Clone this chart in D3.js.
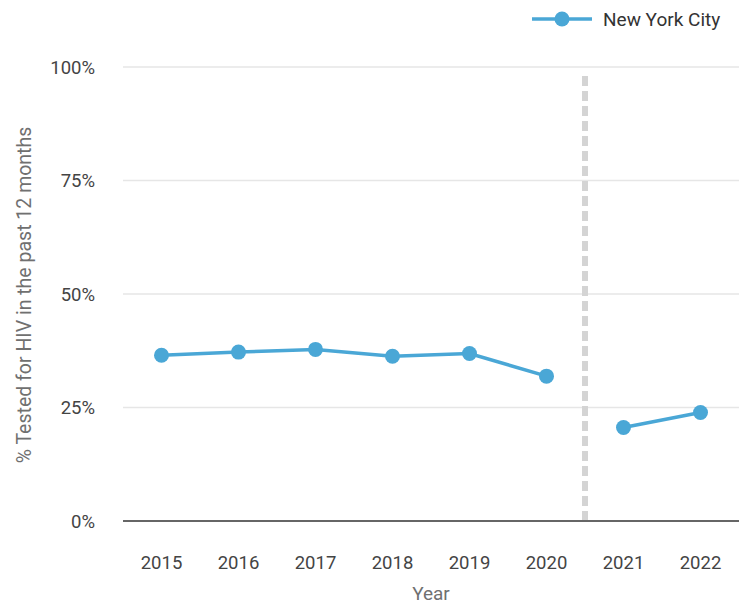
<!DOCTYPE html>
<html>
<head>
<meta charset="utf-8">
<script src="https://cdn.jsdelivr.net/npm/d3@7"></script>
<style>
  body { margin: 0; background: #fff; }
  text { font-family: Roboto, "Noto Sans", sans-serif; }
</style>
</head>
<body>
<svg id="chart" width="749" height="606"></svg>
<script>
// data
var years = ["2015", "2016", "2017", "2018", "2019", "2020", "2021", "2022"];
var nycValues = [36.5, 37.2, 37.8, 36.3, 36.9, 31.9, 20.6, 23.9];
var yTicks = [0, 25, 50, 75, 100];
var seriesName = "New York City";
var breakAfter = "2020";  // dashed divider between 2020 and 2021

var svg = d3.select("#chart");
var plotLeft = 123, plotRight = 739, plotTop = 67, plotBottom = 521;
var blue = "#4aa7d6";

var x = d3.scaleBand().domain(years).range([plotLeft, plotRight]);
var y = d3.scaleLinear().domain([0, 100]).range([plotBottom, plotTop]);

// gridlines
svg.append("g").selectAll("line")
    .data(yTicks.filter(function(d) { return d > 0; }))
    .join("line")
    .attr("x1", plotLeft).attr("x2", plotRight)
    .attr("y1", function(d) { return y(d); })
    .attr("y2", function(d) { return y(d); })
    .attr("stroke", "#e6e6e6").attr("stroke-width", 1.5);

// y tick labels
svg.append("g").selectAll("text")
    .data(yTicks)
    .join("text")
    .attr("x", 95)
    .attr("y", function(d) { return y(d); })
    .attr("dy", "0.36em")
    .attr("text-anchor", "end")
    .attr("font-size", 18.5)
    .attr("fill", "#444")
    .text(function(d) { return d + "%"; });

// dashed divider
var bx = x(breakAfter) + x.bandwidth();
svg.append("line")
    .attr("x1", bx).attr("x2", bx)
    .attr("y1", 76).attr("y2", plotBottom + 4)
    .attr("stroke", "#d4d4d4").attr("stroke-width", 6)
    .attr("stroke-dasharray", "10,5");

// baseline
svg.append("line")
    .attr("x1", plotLeft).attr("x2", plotRight)
    .attr("y1", plotBottom).attr("y2", plotBottom)
    .attr("stroke", "#666").attr("stroke-width", 2);

// x tick labels
svg.append("g").selectAll("text")
    .data(years)
    .join("text")
    .attr("x", function(d) { return x(d) + x.bandwidth() / 2; })
    .attr("y", 569)
    .attr("text-anchor", "middle")
    .attr("font-size", 18.5)
    .attr("fill", "#444")
    .text(function(d) { return d; });

// axis titles
svg.append("text")
    .attr("x", 431).attr("y", 600)
    .attr("text-anchor", "middle")
    .attr("font-size", 19).attr("fill", "#707070")
    .text("Year");

svg.append("text")
    .attr("transform", "translate(31,295) rotate(-90)")
    .attr("text-anchor", "middle")
    .attr("font-size", 19.5).attr("fill", "#707070")
    .text("% Tested for HIV in the past 12 months");

// series, broken into two segments at the divider
var points = years.map(function(yr, i) { return { year: yr, value: nycValues[i] }; });
var cut = years.indexOf(breakAfter) + 1;
var segments = [points.slice(0, cut), points.slice(cut)];
var line = d3.line()
    .x(function(d) { return x(d.year) + x.bandwidth() / 2; })
    .y(function(d) { return y(d.value); });

svg.append("g").selectAll("path")
    .data(segments)
    .join("path")
    .attr("d", line)
    .attr("fill", "none")
    .attr("stroke", blue)
    .attr("stroke-width", 3.5);

svg.append("g").selectAll("circle")
    .data(points)
    .join("circle")
    .attr("cx", function(d) { return x(d.year) + x.bandwidth() / 2; })
    .attr("cy", function(d) { return y(d.value); })
    .attr("r", 7.5)
    .attr("fill", blue);

// legend
var lg = svg.append("g");
lg.append("line")
    .attr("x1", 532).attr("x2", 592)
    .attr("y1", 19).attr("y2", 19)
    .attr("stroke", blue).attr("stroke-width", 3.5);
lg.append("circle")
    .attr("cx", 562).attr("cy", 19).attr("r", 7.5)
    .attr("fill", blue);
lg.append("text")
    .attr("x", 603).attr("y", 19).attr("dy", "0.36em")
    .attr("font-size", 19).attr("fill", "#333")
    .text(seriesName);
</script>
</body>
</html>
